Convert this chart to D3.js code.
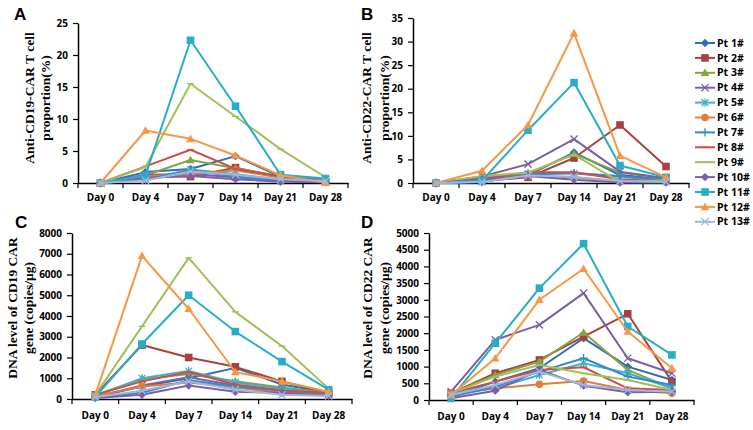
<!DOCTYPE html>
<html>
<head>
<meta charset="utf-8">
<script src="https://cdn.jsdelivr.net/npm/d3@7"></script>
<style>
  body { margin: 0; background: #fff; }
  svg { display: block; }
  .tick text { font-family: "Open Sans", sans-serif; font-weight: bold; font-size: 10px; fill: #000; }
  .ytitle { font-family: "Liberation Serif", serif; font-weight: bold; font-size: 13.5px; }
  .letter { font-family: "Liberation Sans", Arial, sans-serif; font-weight: bold; font-size: 17px; }
  .legend text { font-family: "Open Sans", sans-serif; font-weight: bold; font-size: 10.5px; }
</style>
</head>
<body>
<script>
// categories
var days = ['Day 0', 'Day 4', 'Day 7', 'Day 14', 'Day 21', 'Day 28'];
var patients = ['Pt 1#', 'Pt 2#', 'Pt 3#', 'Pt 4#', 'Pt 5#', 'Pt 6#', 'Pt 7#',
                'Pt 8#', 'Pt 9#', 'Pt 10#', 'Pt 11#', 'Pt 12#', 'Pt 13#'];
var colors = ['#2f6eb0', '#a8423f', '#86a344', '#7a5fa2', '#3fb0c8', '#e27c38', '#2f8bd0',
              '#cc4f4c', '#9fc05a', '#7c5fa6', '#28adc8', '#f79646', '#9cb8df'];
var markers = ['diamond', 'square', 'triangle', 'x', 'star', 'circle', 'plus',
               'dash', 'dash', 'diamond', 'square', 'triangle', 'x'];

// A: anti-CD19 CAR T cell proportion (%)
var cd19Prop = [
  [0, 1.7, 2.2, 4.2, 1.0, 0.5],
  [0, 1.0, 1.0, 2.4, 0.9, 0.2],
  [0, 1.2, 3.6, 2.3, 1.1, 0.3],
  [0, 1.3, 1.4, 0.9, 0.4, 0.2],
  [0, 0.6, 2.1, 1.4, 0.5, 0.3],
  [0, 1.0, 1.4, 2.0, 0.8, 0.1],
  [0, 0.5, 2.0, 1.0, 0.4, 0.2],
  [0, 2.6, 5.2, 2.2, 1.0, 0.3],
  [0, 2.5, 15.5, 10.4, 5.3, 0.9],
  [0, 0.8, 1.1, 0.6, 0.2, 0.1],
  [0, 1.2, 22.3, 12.0, 1.3, 0.7],
  [0, 8.2, 6.9, 4.3, 1.2, 0.05],
  [0, 0.4, 1.8, 1.3, 0.6, 0.3]
];
// B: anti-CD22 CAR T cell proportion (%)
var cd22Prop = [
  [0, 0.6, 1.6, 6.5, 1.7, 0.8],
  [0, 0.4, 1.2, 5.3, 12.3, 3.5],
  [0, 1.2, 2.0, 6.2, 2.2, 0.9],
  [0, 1.4, 4.0, 9.3, 2.4, 1.0],
  [0, 0.3, 2.0, 2.0, 1.3, 0.5],
  [0, 0.3, 1.5, 1.2, 0.3, 0.2],
  [0, 0.2, 1.8, 2.1, 1.5, 0.6],
  [0, 0.8, 2.3, 2.3, 0.8, 0.3],
  [0, 1.5, 2.2, 6.0, 0.2, 0.6],
  [0, 0.8, 1.5, 0.7, 0.1, 0.1],
  [0, 0.5, 11.2, 21.3, 3.7, 1.2],
  [0, 2.6, 12.3, 31.8, 5.8, 1.2],
  [0, 0.2, 1.6, 1.3, 0.4, 0.2]
];
// C: DNA level of CD19 CAR gene (copies/μg)
var cd19Dna = [
  [100, 600, 1000, 1500, 700, 300],
  [200, 2600, 2000, 1550, 850, 300],
  [200, 950, 1200, 850, 550, 300],
  [100, 650, 1050, 650, 450, 200],
  [150, 1000, 1350, 800, 500, 250],
  [150, 600, 800, 550, 300, 200],
  [100, 300, 900, 600, 400, 250],
  [200, 850, 1300, 700, 400, 300],
  [200, 3500, 6800, 4200, 2550, 500],
  [50, 200, 650, 350, 300, 150],
  [100, 2650, 5000, 3250, 1800, 450],
  [200, 6900, 4350, 1300, 850, 350],
  [100, 400, 850, 450, 200, 150]
];
// D: DNA level of CD22 CAR gene (copies/μg)
var cd22Dna = [
  [100, 550, 950, 1850, 1000, 600],
  [200, 800, 1200, 1900, 2580, 550],
  [200, 750, 1150, 2020, 900, 350],
  [250, 1800, 2250, 3200, 1250, 800],
  [150, 350, 750, 1100, 800, 350],
  [200, 350, 470, 570, 300, 200],
  [100, 400, 850, 1250, 700, 450],
  [200, 550, 900, 980, 350, 300],
  [200, 700, 1050, 800, 600, 300],
  [50, 280, 900, 430, 230, 250],
  [50, 1700, 3350, 4680, 2200, 1350],
  [150, 1250, 3000, 3930, 2050, 950],
  [150, 450, 850, 450, 300, 250]
];

// tick labels
var ticksA = [0, 5, 10, 15, 20, 25];
var ticksB = [0, 5, 10, 15, 20, 25, 30, 35];
var ticksC = [0, 1000, 2000, 3000, 4000, 5000, 6000, 7000, 8000];
var ticksD = [0, 500, 1000, 1500, 2000, 2500, 3000, 3500, 4000, 4500, 5000];

var W = 753, H = 430;
var svg = d3.select('body').append('svg').attr('width', W).attr('height', H);

function markerPath(type) {
  switch (type) {
    case 'diamond': return 'M0,-4.2L4.2,0L0,4.2L-4.2,0Z';
    case 'square': return 'M-3.8,-3.8H3.8V3.8H-3.8Z';
    case 'triangle': return 'M0,-4.3L4.3,3.3L-4.3,3.3Z';
    case 'x': return 'M-3.6,-3.6L3.6,3.6M-3.6,3.6L3.6,-3.6';
    case 'star': return 'M-3.4,-3.4L3.4,3.4M-3.4,3.4L3.4,-3.4M0,-4.2L0,4.2';
    case 'circle': return 'M3.8,0A3.8,3.8 0 1,1 -3.8,0A3.8,3.8 0 1,1 3.8,0Z';
    case 'plus': return 'M-4.2,0H4.2M0,-4.2V4.2';
    case 'dash': return 'M-3.5,0H3.5';
  }
}
var stroked = { x: true, star: true, plus: true, dash: true };

function drawMarker(g, type, color, x, y) {
  var p = g.append('path').attr('d', markerPath(type)).attr('transform', 'translate(' + x + ',' + y + ')');
  if (stroked[type]) p.attr('fill', 'none').attr('stroke', color).attr('stroke-width', 1.3);
  else p.attr('fill', color).attr('stroke', 'none');
}

/*
  Draw one panel
*/
function panel(opt) {
  var g = svg.append('g');
  var x = d3.scaleBand().domain(days).range([opt.left, opt.right]);
  var y = d3.scaleLinear().domain([0, opt.ticks[opt.ticks.length - 1]]).range([opt.bottom, opt.top]);
  var cx = function (d) { return x(d) + x.bandwidth() / 2; };

  // y axis
  var ya = g.append('g').attr('transform', 'translate(' + opt.left + ',0)')
    .call(d3.axisLeft(y).tickValues(opt.ticks).tickFormat(d3.format('d'))
      .tickSize(5).tickSizeOuter(0).tickPadding(5));
  ya.select('.domain').attr('stroke', '#000').attr('stroke-width', 1.5);
  ya.selectAll('.tick line').attr('stroke', '#000').attr('stroke-width', 1.2);

  // x axis (labels) + category boundary ticks
  var xa = g.append('g').attr('transform', 'translate(0,' + opt.bottom + ')')
    .call(d3.axisBottom(x).tickSize(0).tickPadding(opt.xpad));
  xa.select('.domain').attr('stroke', '#000').attr('stroke-width', 1.5);
  var bounds = days.map(function (d) { return x(d); }).concat([opt.right]);
  xa.selectAll('.bound').data(bounds).enter().append('line')
    .attr('x1', function (d) { return d; }).attr('x2', function (d) { return d; })
    .attr('y1', 0).attr('y2', 5).attr('stroke', '#000').attr('stroke-width', 1.2);

  var line = d3.line().x(function (d, i) { return cx(days[i]); }).y(function (d) { return y(d); });

  opt.data.forEach(function (vals, s) {
    g.append('path').datum(vals).attr('d', line)
      .attr('fill', 'none').attr('stroke', colors[s]).attr('stroke-width', 2).attr('stroke-linejoin', 'round');
    vals.forEach(function (v, i) { drawMarker(g, markers[s], colors[s], cx(days[i]), y(v)); });
  });

  // y title
  opt.title.forEach(function (t, i) {
    g.append('text').attr('class', 'ytitle')
      .attr('transform', 'translate(' + opt.titleX[i] + ',' + opt.titleY + ') rotate(-90)')
      .attr('text-anchor', 'middle').attr('dy', '0.35em').text(t);
  });

  g.append('text').attr('class', 'letter').attr('x', opt.letterX).attr('y', opt.letterY).text(opt.letter);
}

panel({ data: cd19Prop, ticks: ticksA, left: 78, right: 348, top: 23, bottom: 183, xpad: 11,
  title: ['Anti-CD19-CAR T cell', 'proportion(%)'], titleX: [29, 45], titleY: 98,
  letter: 'A', letterX: 14, letterY: 20 });
panel({ data: cd22Prop, ticks: ticksB, left: 413, right: 689, top: 18, bottom: 183, xpad: 11,
  title: ['Anti-CD22-CAR T cell', 'proportion(%)'], titleX: [366, 384], titleY: 98,
  letter: 'B', letterX: 361, letterY: 20 });
panel({ data: cd19Dna, ticks: ticksC, left: 72, right: 352, top: 233, bottom: 399, xpad: 13,
  title: ['DNA level of CD19 CAR', 'gene (copies/μg)'], titleX: [12, 28], titleY: 308,
  letter: 'C', letterX: 15, letterY: 228 });
panel({ data: cd22Dna, ticks: ticksD, left: 429, right: 694, top: 233, bottom: 400, xpad: 13,
  title: ['DNA level of CD22 CAR', 'gene (copies/μg)'], titleX: [367, 384], titleY: 308,
  letter: 'D', letterX: 361, letterY: 228 });

// legend
var lg = svg.append('g').attr('class', 'legend');
patients.forEach(function (p, i) {
  var ly = 43 + i * 14.9;
  lg.append('line').attr('x1', 695).attr('x2', 715).attr('y1', ly).attr('y2', ly)
    .attr('stroke', colors[i]).attr('stroke-width', 2);
  drawMarker(lg, markers[i], colors[i], 705, ly);
  lg.append('text').attr('x', 717).attr('y', ly).attr('dy', '0.35em').text(p);
});
</script>
</body>
</html>
